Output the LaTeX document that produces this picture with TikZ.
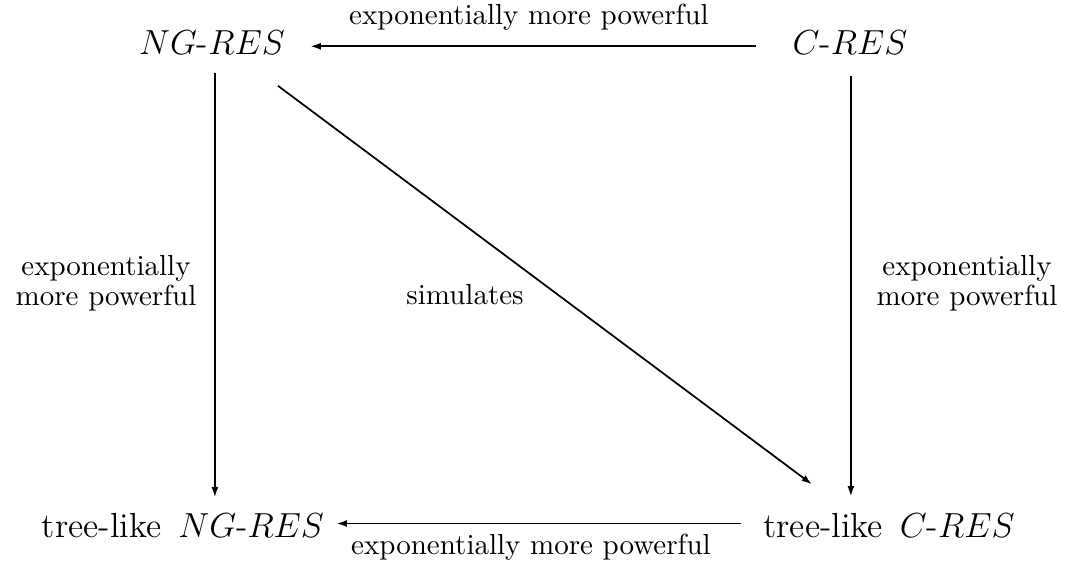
\documentclass[tikz,border=0pt]{standalone}
\usetikzlibrary{arrows.meta}
\begin{document}
\begin{tikzpicture}[x=0.3448pt,y=-0.3448pt,
  main/.style={font=\large, inner sep=0pt, text height=8.5pt, text depth=2.5pt, anchor=base},
  lbl/.style={font=\normalsize, inner sep=0pt, anchor=base},
  side/.style={font=\fontsize{10}{10.3}\selectfont, inner sep=0pt, align=center, anchor=north},
  arr/.style={-{Latex[length=3.6pt,width=2.4pt]}, line width=0.6pt}]
\useasboundingbox (0,0) rectangle (1075,567);
\node[main] (ngres) at (212,55) {$NG$-$RES$};
\node[main] (cres) at (850,55) {$C$-$RES$};
\node[main] (tlng) at (183,538) {tree-like\hspace{2pt} $NG$-$RES$};
\node[main] (tlc) at (889,538) {tree-like\hspace{2pt} $C$-$RES$};
\node[lbl] (ltop) at (529,25) {exponentially more powerful};
\node[lbl] (lbot) at (531,555) {exponentially more powerful};
\node[side] (lleft) at (106,255) {exponentially\\more powerful};
\node[side] (lright) at (967,255) {exponentially\\more powerful};
\node[lbl] (lsim) at (465,305) {simulates};
\draw[arr, shorten <=12.4pt, shorten >=8.6pt] (cres.west) -- (ngres.east);
\draw[arr, shorten <=7.4pt, shorten >=4.1pt] ([yshift=2pt]tlc.west) -- ([yshift=2pt]tlng.east);
\draw[arr, shorten <=3.4pt, shorten >=5.3pt] ([xshift=1pt]ngres.south) -- ([xshift=1pt]ngres.south |- tlng.north);
\draw[arr, shorten <=4.4pt, shorten >=5.6pt] ([xshift=0.3pt]cres.south) -- ([xshift=0.3pt]cres.south |- tlc.north);
\draw[arr] ([shift={(66,23)}]ngres.south) -- ([shift={(-77,-28.4)}]tlc.north);
\end{tikzpicture}
\end{document}
